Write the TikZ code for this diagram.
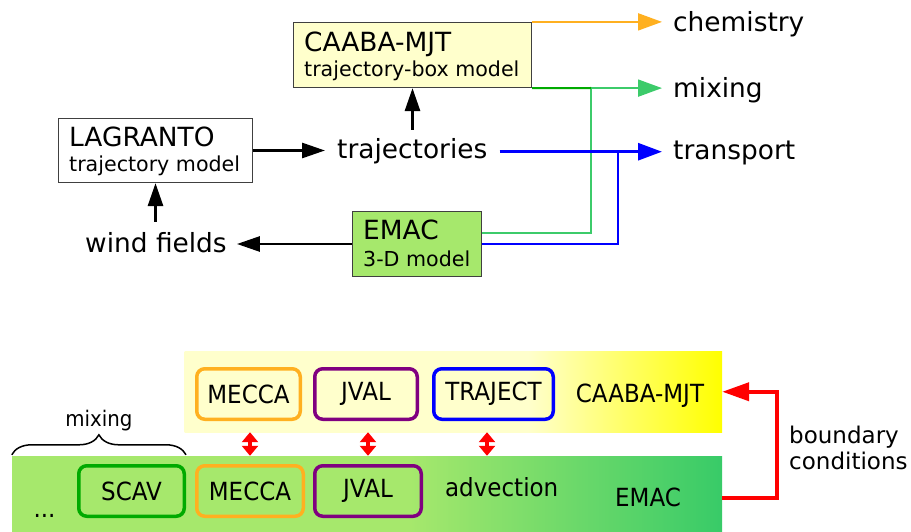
\documentclass[tikz,border=0pt]{standalone}
\usepackage{fontspec}
\setmainfont{DejaVu Sans}
\newfontfamily\condfont[FakeStretch=0.92]{DejaVu Sans}
\usetikzlibrary{arrows.meta,decorations.pathreplacing,calc}
\definecolor{lightyel}{HTML}{FFFFCC}
\definecolor{boxgreen}{HTML}{A6E86C}
\definecolor{deepgreen}{HTML}{38CB68}
\definecolor{orng}{HTML}{FFB020}
\definecolor{purp}{HTML}{800080}
\definecolor{scavgreen}{HTML}{00AA00}
\definecolor{mixgreen}{HTML}{3CCB6A}
\definecolor{boxgray}{HTML}{404040}
\pgfdeclarehorizontalshading{yshade}{100bp}{color(0bp)=(lightyel); color(25bp)=(lightyel); color(57bp)=(lightyel); color(75bp)=(yellow); color(100bp)=(yellow)}
\pgfdeclarehorizontalshading{gshade}{100bp}{color(0bp)=(boxgreen); color(25bp)=(boxgreen); color(53bp)=(boxgreen); color(75bp)=(deepgreen); color(100bp)=(deepgreen)}
\begin{document}
\begin{tikzpicture}[x=1pt,y=-1pt,
  bigt/.style={font=\fontsize{26.4}{30}\selectfont, inner sep=0pt},
  smallt/.style={font=\fontsize{20.6}{24}\selectfont, inner sep=0pt},
  bott/.style={font=\condfont\fontsize{25}{29}\selectfont, inner sep=0pt},
  mixt/.style={font=\condfont\fontsize{21.5}{25}\selectfont, inner sep=0pt},
  bct/.style={font=\fontsize{23}{27}\selectfont, inner sep=0pt},
  topbox/.style={draw=boxgray, line width=1.2pt, inner sep=0pt},
  modbox/.style={line width=3.5pt, rounded corners=8pt, inner sep=0pt, font=\condfont\fontsize{25}{29}\selectfont},
  blk/.style={line width=2.8pt, -{Triangle[length=23pt,width=15pt]}},
  colarrow/.style={line width=2pt, -{Triangle[length=24pt,width=17pt]}},
  dblred/.style={red, line width=4pt, {Triangle[length=10pt,width=16pt]}-{Triangle[length=10pt,width=16pt]}},
  redarrow/.style={red, line width=4pt, -{Triangle[length=27pt,width=18pt]}},
  bracestyle/.style={line width=1.5pt, decorate, decoration={brace, amplitude=20pt}}
]
\useasboundingbox (0,0) rectangle (911,532);

% ---------- top part ----------
\node[topbox, fill=lightyel, minimum width=238pt, minimum height=65pt] (caaba) at (412.5,55) {};
\node[bigt, anchor=base west] (caabaA) at (304,51.7) {CAABA-MJT};
\node[smallt, anchor=base west] (caabaB) at (304,76.5) {trajectory-box model};

\node[topbox, fill=white, minimum width=194pt, minimum height=64pt] (lag) at (155.5,150.5) {};
\node[bigt, anchor=base west] (lagA) at (69,146.7) {LAGRANTO};
\node[smallt, anchor=base west] (lagB) at (69,171.7) {trajectory model};

\node[topbox, fill=boxgreen, minimum width=129pt, minimum height=65pt] (emac) at (417,244) {};
\node[bigt, anchor=base west] (emacA) at (363,240) {EMAC};
\node[smallt, anchor=base west] (emacB) at (363,266.7) {3-D model};

\node[bigt, anchor=base west] (wind) at (85,252) {wind fields};
\node[bigt, anchor=base west] (traj) at (337,159) {trajectories};
\node[bigt, anchor=base west] (chem) at (673,32) {chemistry};
\node[bigt, anchor=base west] (mix) at (673,98) {mixing};
\node[bigt, anchor=base west] (transp) at (673,160) {transport};

\coordinate (gjoin) at (591,88);
\coordinate (bjoin) at (618,152);

% green and blue feeders from EMAC
\draw[mixgreen, line width=2pt] ([yshift=11pt]emac.east) -| (gjoin);
\draw[blue, line width=2.6pt] (emac.east) -| (bjoin);

% coloured outputs
\draw[colarrow, orng] (caaba.north east) -- ([xshift=-11pt]chem.west |- caaba.north east);
\draw[colarrow, mixgreen] (caaba.south east) -- ([xshift=-11pt]mix.west |- caaba.south east);
\draw[scavgreen, line width=2pt] (caaba.south east) -- (gjoin);
\draw[colarrow, blue, line width=3pt] ([xshift=12pt]traj.east) -- ([xshift=-11pt]transp.west |- traj.east);

% black arrows
\draw[blk] (lag.east) -- ([xshift=-12pt]traj.west |- lag.east);
\draw[blk] ([yshift=10pt]lag.south |- wind.north) -- (lag.south);
\draw[blk] ([yshift=9pt]caaba.south |- traj.north) -- (caaba.south);
\draw[blk] (emac.west) -- ([xshift=10pt]wind.east |- emac.west);

% ---------- bottom part ----------
\node[shade, shading=yshade, minimum width=537.5pt, minimum height=80.5pt, inner sep=0pt] (yband) at (453.25,391.75) {};
\node[shade, shading=gshade, minimum width=710pt, minimum height=78pt, inner sep=0pt] (gband) at (367,495) {};

\node[modbox, draw=orng, minimum width=103.5pt, minimum height=50.5pt] (m1) at (248.5,394) {MECCA};
\node[modbox, draw=purp, minimum width=102.5pt, minimum height=50.5pt] (j1) at (366,394) {JVAL};
\node[modbox, draw=blue, minimum width=119.5pt, minimum height=50.5pt] (t1) at (493.5,394) {TRAJECT};
\node[bott, anchor=base] (caabaC) at (640,402.5) {CAABA-MJT};

\node[modbox, draw=scavgreen, minimum width=105.5pt, minimum height=50.5pt] (s2) at (131.5,491) {SCAV};
\node[modbox, draw=orng, minimum width=106.5pt, minimum height=50.5pt] (m2) at (250,491) {MECCA};
\node[modbox, draw=purp, minimum width=106.5pt, minimum height=50.5pt] (j2) at (368,491) {JVAL};
\node[bott, anchor=base] (adv) at (501.7,496.7) {advection};
\node[bott, anchor=base] (emacC) at (648,506) {EMAC};
\node[bott, anchor=base] (dots) at (44.5,517) {...};

\coordinate (a3) at (487,440);
\draw[dblred] (m2.north |- yband.south) -- (m2.north |- gband.north);
\draw[dblred] (j2.north |- yband.south) -- (j2.north |- gband.north);
\draw[dblred] (a3 |- yband.south) -- (a3 |- gband.north);

\draw[redarrow] ([yshift=-3pt]gband.east) -- ++(55,0) |- (yband.east);
\node[bct, anchor=base west] (bc1) at (789,443.3) {boundary};
\node[bct, anchor=base west] (bc2) at (789,469.3) {conditions};

\draw[bracestyle] ([yshift=1pt]gband.north west) -- ([yshift=1pt]s2.east |- gband.north);
\node[mixt] (mixlab) at (99,421) {mixing};
\end{tikzpicture}
\end{document}
